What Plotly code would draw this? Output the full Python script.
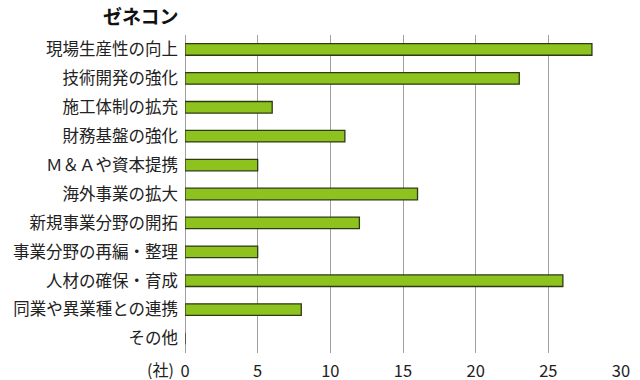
import plotly.graph_objects as go

categories = ["現場生産性の向上", "技術開発の強化", "施工体制の拡充", "財務基盤の強化",
              "Ｍ＆Ａや資本提携", "海外事業の拡大", "新規事業分野の開拓", "事業分野の再編・整理",
              "人材の確保・育成", "同業や異業種との連携", "その他"]
values = [28, 23, 6, 11, 5, 16, 12, 5, 26, 8, 0]
tick_vals = [0, 5, 10, 15, 20, 25, 30]

FONT = "Noto Sans CJK JP"

fig = go.Figure(go.Bar(
    x=values, y=categories, orientation="h",
    marker=dict(color="#8dc21f", line=dict(color="#2d3a12", width=1.3)),
    width=0.4,
))

fig.update_layout(
    width=640, height=380,
    margin=dict(l=185, r=19, t=35, b=27),
    paper_bgcolor="white", plot_bgcolor="white",
    showlegend=False,
    font=dict(family=FONT, color="#222"),
    xaxis=dict(range=[0, 30], tickvals=tick_vals, showgrid=True, gridcolor="#a0a0a0",
               gridwidth=1, zeroline=True, zerolinecolor="#a0a0a0", zerolinewidth=1,
               ticks="", ticklabelstandoff=6,
               tickfont=dict(size=16.5, family=FONT, color="#222"), showline=False,
               automargin=False),
    yaxis=dict(autorange="reversed", categoryorder="array", categoryarray=categories,
               ticks="", ticklabelstandoff=6, tickfont=dict(size=16.5, family=FONT, color="#222"),
               showgrid=False, zeroline=False, showline=False, automargin=False),
    annotations=[
        dict(text="<b>ゼネコン</b>", xref="paper", yref="paper", x=-0.192, y=1.0,
             yshift=20, xanchor="left", yanchor="middle", showarrow=False,
             font=dict(size=19, family=FONT, color="#111")),
        dict(text="(社)", xref="paper", yref="paper", x=-0.02, y=0, yshift=-16,
             xanchor="right", yanchor="middle", showarrow=False,
             font=dict(size=16, family=FONT, color="#222")),
    ],
)

fig.write_html("out.html", config={"displayModeBar": False},
               post_script="document.body.style.margin='0';")
